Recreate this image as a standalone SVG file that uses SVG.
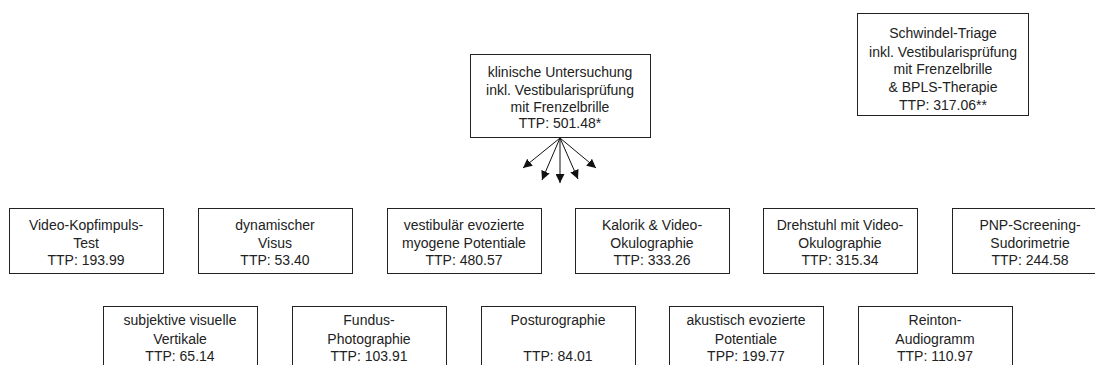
<svg xmlns="http://www.w3.org/2000/svg" width="1095" height="365" viewBox="0 0 1095 365">
<defs>
<style>
.box{fill:#fff;stroke:#222;stroke-width:1}
.t{font-family:"Liberation Sans",Arial,sans-serif;font-size:14px;fill:#222;text-anchor:middle}
.c{stroke:#111;stroke-width:1;fill:none;marker-end:url(#ah)}
</style>
<marker id="ah" viewBox="0 0 10 10" refX="10" refY="5" markerWidth="9" markerHeight="9" markerUnits="userSpaceOnUse" orient="auto">
<path d="M0,0 L10,5 L0,10 z" fill="#111"/>
</marker>
</defs>
<rect width="1095" height="365" fill="#fff"/>

<g id="n-klinisch">
<rect class="box" x="470.5" y="54.5" width="180" height="83"/>
<text class="t" x="560" y="77">klinische Untersuchung</text>
<text class="t" x="560" y="95">inkl. Vestibularisprüfung</text>
<text class="t" x="560" y="112">mit Frenzelbrille</text>
<text class="t" x="560" y="128">TTP: 501.48*</text>
</g>

<g id="n-triage">
<rect class="box" x="857.5" y="13.5" width="171" height="102"/>
<text class="t" x="943" y="38">Schwindel-Triage</text>
<text class="t" x="943" y="57">inkl. Vestibularisprüfung</text>
<text class="t" x="943" y="74">mit Frenzelbrille</text>
<text class="t" x="943" y="92">&amp; BPLS-Therapie</text>
<text class="t" x="943" y="110">TTP: 317.06**</text>
</g>

<g id="connectors">
<line class="c" x1="560" y1="138" x2="523" y2="168"/>
<line class="c" x1="560" y1="138" x2="542" y2="180"/>
<line class="c" x1="560" y1="138" x2="560" y2="183"/>
<line class="c" x1="560" y1="138" x2="578" y2="179"/>
<line class="c" x1="560" y1="138" x2="596" y2="168"/>
</g>

<g id="n-vkit">
<rect class="box" x="9.5" y="208.5" width="154" height="65"/>
<text class="t" x="86" y="230">Video-Kopfimpuls-</text>
<text class="t" x="86" y="248">Test</text>
<text class="t" x="86" y="265">TTP: 193.99</text>
</g>
<g id="n-visus">
<rect class="box" x="198.5" y="208.5" width="154" height="65"/>
<text class="t" x="275" y="230">dynamischer</text>
<text class="t" x="275" y="248">Visus</text>
<text class="t" x="275" y="265">TTP: 53.40</text>
</g>
<g id="n-vemp">
<rect class="box" x="387.5" y="208.5" width="154" height="65"/>
<text class="t" x="464" y="230">vestibulär evozierte</text>
<text class="t" x="464" y="248">myogene Potentiale</text>
<text class="t" x="464" y="265">TTP: 480.57</text>
</g>
<g id="n-kalorik">
<rect class="box" x="575.5" y="208.5" width="154" height="65"/>
<text class="t" x="652" y="230">Kalorik &amp; Video-</text>
<text class="t" x="652" y="248">Okulographie</text>
<text class="t" x="652" y="265">TTP: 333.26</text>
</g>
<g id="n-drehstuhl">
<rect class="box" x="763.5" y="208.5" width="154" height="65"/>
<text class="t" x="840" y="230">Drehstuhl mit Video-</text>
<text class="t" x="840" y="248">Okulographie</text>
<text class="t" x="840" y="265">TTP: 315.34</text>
</g>
<g id="n-pnp">
<rect class="box" x="952.5" y="208.5" width="154" height="65"/>
<text class="t" x="1030" y="230">PNP-Screening-</text>
<text class="t" x="1030" y="248">Sudorimetrie</text>
<text class="t" x="1030" y="265">TTP: 244.58</text>
</g>

<g id="n-svv">
<rect class="box" x="103.5" y="306.5" width="154" height="70"/>
<text class="t" x="180" y="325">subjektive visuelle</text>
<text class="t" x="180" y="344">Vertikale</text>
<text class="t" x="180" y="361">TTP: 65.14</text>
</g>
<g id="n-fundus">
<rect class="box" x="292.5" y="306.5" width="154" height="70"/>
<text class="t" x="369" y="325">Fundus-</text>
<text class="t" x="369" y="344">Photographie</text>
<text class="t" x="369" y="361">TTP: 103.91</text>
</g>
<g id="n-posturo">
<rect class="box" x="481.5" y="306.5" width="154" height="70"/>
<text class="t" x="558" y="325">Posturographie</text>
<text class="t" x="558" y="361">TTP: 84.01</text>
</g>
<g id="n-aep">
<rect class="box" x="669.5" y="306.5" width="154" height="70"/>
<text class="t" x="746" y="325">akustisch evozierte</text>
<text class="t" x="746" y="344">Potentiale</text>
<text class="t" x="746" y="361">TPP: 199.77</text>
</g>
<g id="n-audio">
<rect class="box" x="858.5" y="306.5" width="154" height="70"/>
<text class="t" x="935" y="325">Reinton-</text>
<text class="t" x="935" y="344">Audiogramm</text>
<text class="t" x="935" y="361">TTP: 110.97</text>
</g>
</svg>
